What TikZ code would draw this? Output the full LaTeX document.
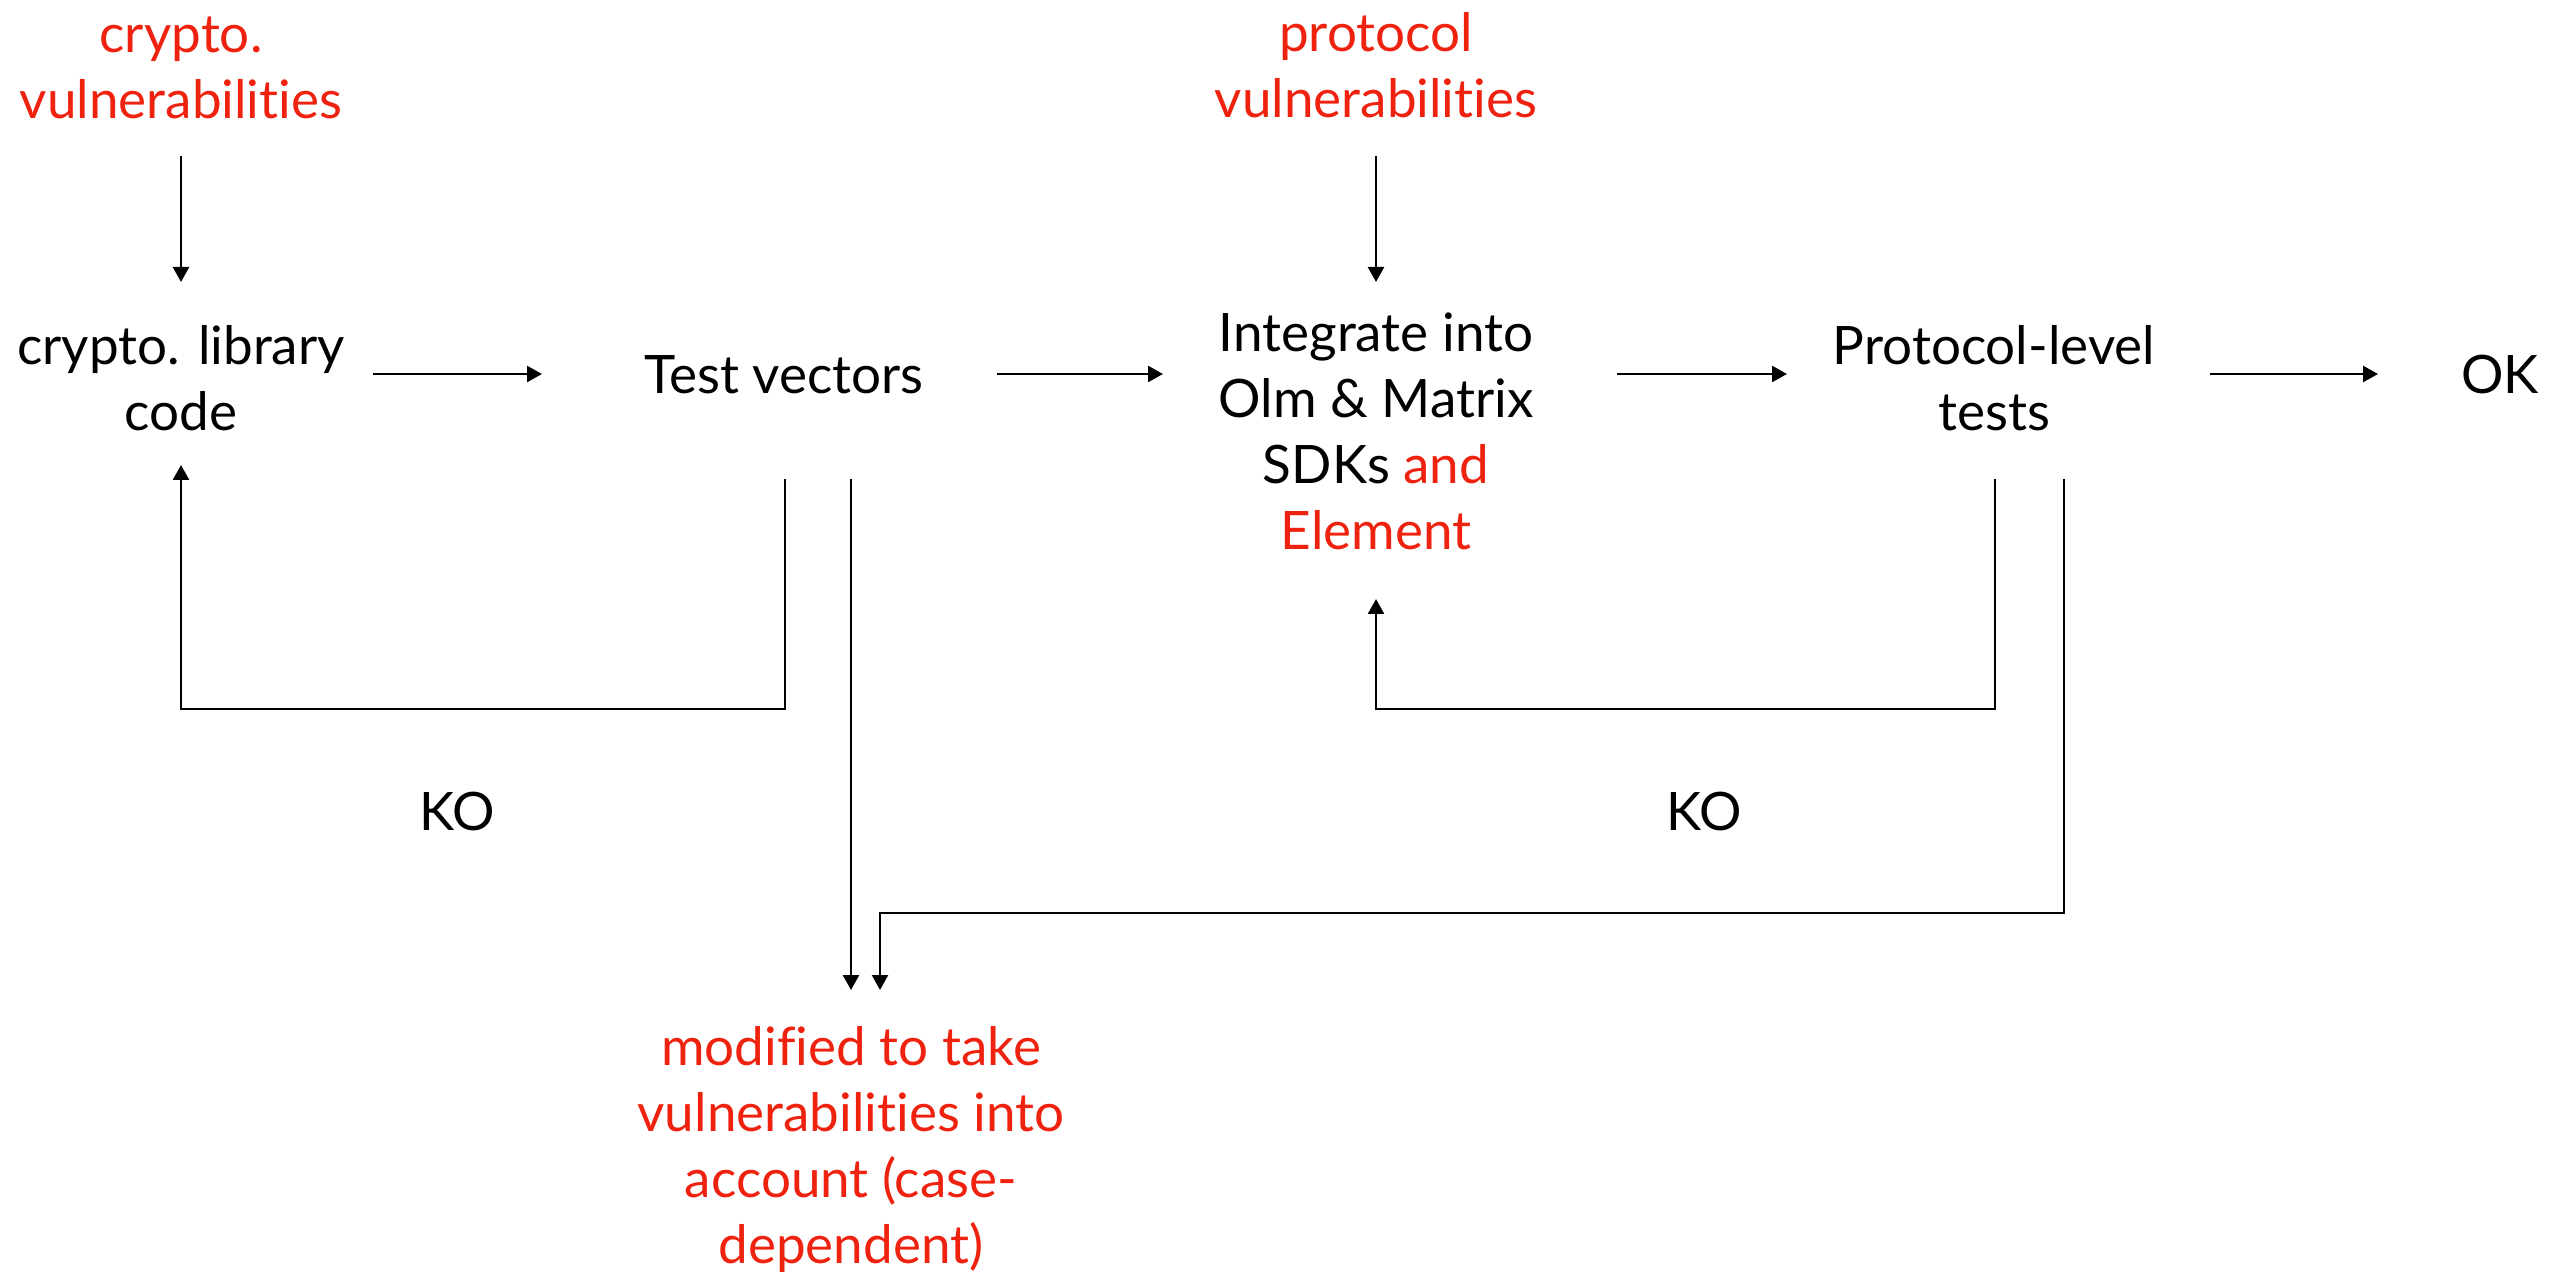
\documentclass[tikz,border=0pt]{standalone}
\usepackage{fontspec}
\setmainfont{Lato}[Ligatures={NoCommon}]
\usetikzlibrary{arrows.meta}
\definecolor{vulnred}{RGB}{238,34,14}
\begin{document}
\begin{tikzpicture}[x=0.5pt,y=-0.5pt,
  lbl/.style={align=center, inner sep=0pt, font=\fontsize{26.5}{33}\selectfont},
  warn/.style={lbl, text=vulnred},
  wire/.style={line width=1.2pt},
  arr/.style={wire, -{Triangle[length=7.5pt,width=8pt]}}]
\useasboundingbox (0,0) rectangle (2575,1272);

% flow row and feedback levels
\coordinate (row) at (0,374);
\coordinate (top) at (0,479);

% stages
\node[warn] (cv)  at (181,68)   {crypto.\\vulnerabilities};
\node[warn] (pv)  at (1376,65)  {protocol\\vulnerabilities};
\node[lbl]  (clc) at (181,378)  {crypto. library\\code};
\node[lbl, anchor=base] (tv) at (784,394) {Test vectors};
\node[lbl]  (int) at (1376,431) {Integrate into\\Olm \& Matrix\\SDKs \textcolor{vulnred}{and}\\\textcolor{vulnred}{Element}};
\node[lbl]  (plt) at (1994,378) {Protocol-level\\tests};
\node[lbl, anchor=base] (ok) at (2500,394) {OK};
\node[warn] (mod) at (851,1150) {modified to take\\vulnerabilities into\\account (case-\\dependent)};
\node[lbl, anchor=base] (ko1) at (457,830)  {KO};
\node[lbl, anchor=base] (ko2) at (1704,830) {KO};

% vulnerabilities feeding in
\draw[arr] (cv.center |- 0,156) -- (clc.center |- 0,282);
\draw[arr] (pv.center |- 0,156) -- (int.center |- 0,282);

% main flow
\draw[arr] ([xshift=96pt]clc.center |- row) -- ([xshift=-121pt]tv.center |- row);
\draw[arr] ([xshift=106.5pt]tv.center |- row) -- ([xshift=-106.5pt]int.center |- row);
\draw[arr] ([xshift=120.5pt]int.center |- row) -- ([xshift=-103.5pt]plt.center |- row);
\draw[arr] ([xshift=108pt]plt.center |- row) -- ([xshift=-61pt]ok.center |- row);

% KO loops
\draw[arr] ([xshift=0.5pt]tv.center |- top) |- (clc.center |- 0,709) -- (clc.center |- 0,465);
\draw[arr] ([xshift=0.5pt]plt.center |- top) |- (int.center |- 0,709) -- (int.center |- 0,599);

% towards the modified test vectors
\draw[arr] (mod.center |- top) -- (mod.center |- 0,990);
\draw[arr] ([xshift=35pt]plt.center |- top) |- ([xshift=14.5pt]mod.center |- 0,913) -- ([xshift=14.5pt]mod.center |- 0,990);
\end{tikzpicture}
\end{document}
